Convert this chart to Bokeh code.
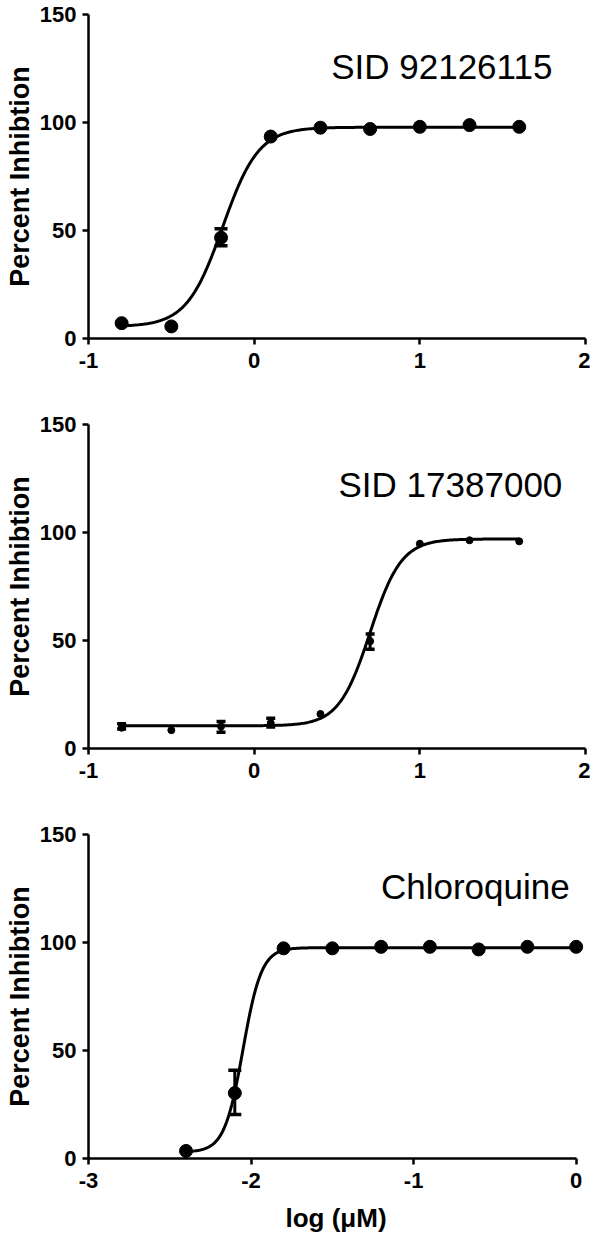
import numpy as np
from bokeh.plotting import figure
from bokeh.layouts import column
from bokeh.models import Range1d, Whisker, TeeHead, ColumnDataSource, Label, FixedTicker
from bokeh.embed import file_html
from bokeh.resources import INLINE

# ---- data ----
log_conc_a = [-0.8, -0.5, -0.2, 0.1, 0.4, 0.7, 1.0, 1.3, 1.6]
inhib_a = [7.1, 5.6, 46.7, 93.5, 97.6, 97.0, 98.0, 98.8, 98.0]
err_x_a = [-0.2]
err_lo_a = [42.9]
err_hi_a = [50.8]
fit_a = dict(bottom=5.5, top=97.8, logic50=-0.19, hill=4.0)

log_conc_b = [-0.8, -0.5, -0.2, 0.1, 0.4, 0.7, 1.0, 1.3, 1.6]
inhib_b = [9.6, 8.5, 10.2, 11.8, 16.0, 49.7, 94.8, 96.4, 95.9]
err_x_b = [-0.8, -0.2, 0.1, 0.7]
err_lo_b = [9.0, 7.5, 10.0, 46.0]
err_hi_b = [11.5, 12.5, 14.0, 53.0]
fit_b = dict(bottom=10.5, top=97.0, logic50=0.70, hill=4.6)

log_conc_c = [-2.4, -2.1, -1.8, -1.5, -1.2, -0.9, -0.6, -0.3, 0.0]
inhib_c = [3.5, 30.3, 97.3, 97.3, 98.0, 98.0, 96.8, 98.0, 98.0]
err_x_c = [-2.1]
err_lo_c = [20.4]
err_hi_c = [40.8]
fit_c = dict(bottom=3.0, top=97.6, logic50=-2.05, hill=7.6)

titles = ["SID 92126115", "SID 17387000", "Chloroquine"]
y_ticks = [0, 50, 100, 150]
x_ticks_ab = [-1, 0, 1, 2]
x_ticks_c = [-3, -2, -1, 0]
y_label = "Percent Inhibtion"
x_label = "log (\u03bcM)"

FONT = "Liberation Sans"


def fit_curve(xs, fit):
    x = np.linspace(min(xs), max(xs), 300)
    y = fit["bottom"] + (fit["top"] - fit["bottom"]) / (1 + 10 ** ((fit["logic50"] - x) * fit["hill"]))
    return x, y


def panel(xs, ys, ex, elo, ehi, fit, xr, xb, xticks, title, tx, ty, msize, cap,
          fw, left, right, top, bottom, xlab=None):
    p = figure(frame_width=fw, frame_height=324, output_backend="svg", toolbar_location=None,
               x_range=Range1d(*xr), y_range=Range1d(0, 150),
               min_border_left=left, min_border_right=right,
               min_border_top=top, min_border_bottom=bottom)
    p.outline_line_color = None
    p.xgrid.grid_line_color = None
    p.ygrid.grid_line_color = None
    p.background_fill_color = "white"

    cx, cy = fit_curve(xs, fit)
    p.line(cx, cy, line_color="black", line_width=3)

    src = ColumnDataSource(dict(x=ex, lo=elo, hi=ehi))
    w = Whisker(source=src, base="x", lower="lo", upper="hi", line_color="black", line_width=3,
                upper_head=TeeHead(size=cap, line_width=3.5, line_color="black"),
                lower_head=TeeHead(size=cap, line_width=3.5, line_color="black"))
    p.add_layout(w)
    p.scatter(xs, ys, size=msize, color="black")

    for ax in (p.xaxis[0], p.yaxis[0]):
        ax.axis_line_width = 2.5
        ax.major_tick_line_width = 2.5
        ax.major_tick_in = 0
        ax.major_tick_out = 6
        ax.minor_tick_line_color = None
        ax.major_label_text_font = FONT
        ax.major_label_text_font_style = "bold"
        ax.major_label_text_font_size = "22px"
        ax.major_label_text_color = "black"
        ax.axis_line_color = "black"
        ax.major_tick_line_color = "black"
    p.xaxis.ticker = FixedTicker(ticks=xticks)
    p.yaxis.ticker = FixedTicker(ticks=y_ticks)
    p.xaxis.major_label_overrides = {t: str(t) for t in xticks}
    p.xaxis.bounds = xb
    p.yaxis.bounds = (0, 150)
    p.xaxis.major_label_standoff = 8
    p.yaxis.major_label_standoff = 6

    p.yaxis.axis_label = y_label
    p.yaxis.axis_label_text_font = FONT
    p.yaxis.axis_label_text_font_style = "bold"
    p.yaxis.axis_label_text_font_size = "27px"
    p.yaxis.axis_label_text_color = "black"
    p.yaxis.axis_label_standoff = 2

    if xlab:
        p.xaxis.axis_label = xlab
        p.xaxis.axis_label_text_font = FONT
        p.xaxis.axis_label_text_font_style = "bold"
        p.xaxis.axis_label_text_font_size = "26px"
        p.xaxis.axis_label_text_color = "black"
        p.xaxis.axis_label_standoff = 12

    p.add_layout(Label(x=tx, y=ty, text=title, text_align="right", text_baseline="alphabetic",
                       text_font=FONT, text_font_size="35px", text_color="black"))
    return p


p1 = panel(log_conc_a, inhib_a, err_x_a, err_lo_a, err_hi_a, fit_a, (-1, 2), (-1, 2), x_ticks_ab,
           titles[0], 1.80, 126, 13, 13, 497, 81, 6, 14, 72)
p2 = panel(log_conc_b, inhib_b, err_x_b, err_lo_b, err_hi_b, fit_b, (-1, 2), (-1, 2), x_ticks_ab,
           titles[1], 1.86, 122, 7, 9, 497, 81, 6, 14, 72)
p3 = panel(log_conc_c, inhib_c, err_x_c, err_lo_c, err_hi_c, fit_c, (-3, 0.045), (-3, 0), x_ticks_c,
           titles[2], -0.04, 126, 13, 13, 495, 88, 1, 14, 80, xlab=x_label)

layout = column(p1, p2, p3, spacing=0)
open("out.html", "w").write(file_html(layout, INLINE))
